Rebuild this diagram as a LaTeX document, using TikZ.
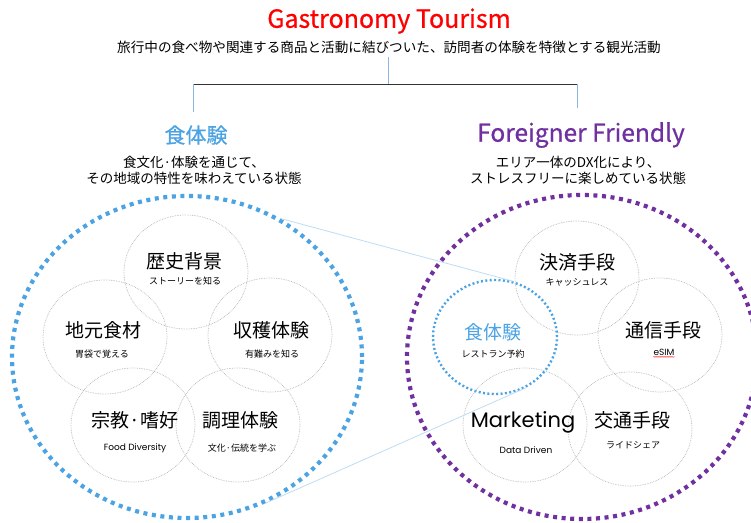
\documentclass[tikz,border=0pt]{standalone}
\usepackage{fontspec}
\setmainfont{Noto Sans CJK JP}
\newfontfamily\jpm[FakeBold=0.7]{Noto Sans CJK JP}
\newfontfamily\geo{Poppins}
\usepackage{tikz}
\usetikzlibrary{shapes.geometric,positioning,decorations.pathmorphing}
\definecolor{gtred}{HTML}{FF0000}
\definecolor{fblue}{HTML}{4BA3E3}
\definecolor{fpurple}{HTML}{7030A0}
\definecolor{lineblue}{HTML}{8EB4E3}
\definecolor{zoomblue}{HTML}{BCDDF4}
\definecolor{ringgray}{HTML}{B4B4B4}
\newcommand{\fs}[1]{\fontsize{#1}{#1}\selectfont}

\begin{document}
\begin{tikzpicture}[x=1pt, y=-1pt, inner sep=0pt]
   \useasboundingbox (0,0) rectangle (751,522);
   % headings
   \node (t0) at (389,21) {\jpm\fs{25}\color{gtred}Gastronomy Tourism};
   \node (t1) at (389,47) {\fs{13.6}旅行中の食べ物や関連する商品と活動に結びついた、訪問者の体験を特徴とする観光活動};
   \node (h1) at (196,135) {\jpm\fs{21}\color{fblue}食体験};
   \node (h2) at (581,135) {\jpm\fs{24.5}\color{fpurple}Foreigner Friendly};
   \node[align=center] (d1) at (194,170) {\fs{13.5}食文化·体験を通じて、\\[2.5pt]\fs{13.5}その地域の特性を味わえている状態};
   \node[align=center] (d2) at (578,170) {\fs{13.5}エリア一体のDX化により、\\[2.5pt]\fs{13.5}ストレスフリーに楽しめている状態};
   \coordinate (j0) at (388,57);
   \coordinate (j1) at (388,84);
   \coordinate (j2) at (193,84);
   \coordinate (j3) at (577,84);
   \coordinate (j4) at (193,112);
   \coordinate (j5) at (577,108);
   \draw[lineblue, line width=1pt] (j0) -- (j1);
   \draw[black!80, line width=1pt] (j2) -- (j3);
   \draw[lineblue, line width=1pt] (j2) -- (j4);
   \draw[lineblue, line width=1pt] (j3) -- (j5);
   % outer rings
   \node[ellipse, draw=fblue, line width=4.2pt, dash pattern=on 4pt off 4.6pt,
         minimum width=350pt, minimum height=322pt] (L) at (187,357) {};
   \node[ellipse, draw=fpurple, line width=4.2pt, dash pattern=on 4pt off 4.6pt,
         minimum width=350pt, minimum height=324pt] (R) at (582,357) {};
   % inner circles
   \begin{scope}[every node/.style={ellipse, draw=ringgray, densely dotted, line width=0.7pt,
                 minimum width=124pt, minimum height=114pt}]
    \node (v1) at (186,272) {};
    \node (v2) at (105,337) {};
    \node (v3) at (270,335) {};
    \node (v4) at (133,425) {};
    \node (v5) at (238,425) {};
    \node (w1) at (577,278) {};
    \node (w2) at (495,337) [draw=fblue, line width=2.4pt, dash pattern=on 2pt off 2.4pt] {};
    \node (w3) at (660,335) {};
    \node (w4) at (525,425) {};
    \node (w5) at (630,429) {};
   \end{scope}
   % zoom lines
   \draw[zoomblue, line width=0.8pt] (L.56) -- (w2.72);
   \draw[zoomblue, line width=0.8pt] (L.-62) -- (w2.-59);
   % labels
   \begin{scope}[every node/.style={font=\fs{19}}]
    \node (a1) at (184,261) {歴史背景};
    \node (a2) at (103,330) {地元食材};
    \node (a3) at (271,330) {収穫体験};
    \node (a4) at (135,420) {宗教·嗜好};
    \node (a5) at (240,420) {調理体験};
    \node (b1) at (577,262) {決済手段};
    \node (b2) at (493,332) [text=fblue] {食体験};
    \node (b3) at (663,330) {通信手段};
    \node (b4) at (523,422) {\geo\fs{21}Marketing};
    \node (b5) at (632,420) {交通手段};
   \end{scope}
   \begin{scope}[every node/.style={font=\fs{9}}]
    \node (s1) at (185,281) {ストーリーを知る};
    \node (s2) at (102,354) {胃袋で覚える};
    \node (s3) at (272,354) {有難みを知る};
    \node (s4) at (135,448) {\geo Food Diversity};
    \node (s5) at (242,448) {文化·伝統を学ぶ};
    \node (u1) at (577,282) {キャッシュレス};
    \node (u2) at (493,354) {レストラン予約};
    \node (u3) at (664,352) {\geo eSIM};
    \node (u4) at (526,450) {\geo Data Driven};
    \node (u5) at (633,445) {ライドシェア};
   \end{scope}
   \draw[red, line width=0.4pt, decorate, decoration={snake, amplitude=0.5pt, segment length=2pt}]
     ([yshift=-1.5pt]u3.south west) -- ([yshift=-1.5pt]u3.south east);
\end{tikzpicture}
\end{document}
